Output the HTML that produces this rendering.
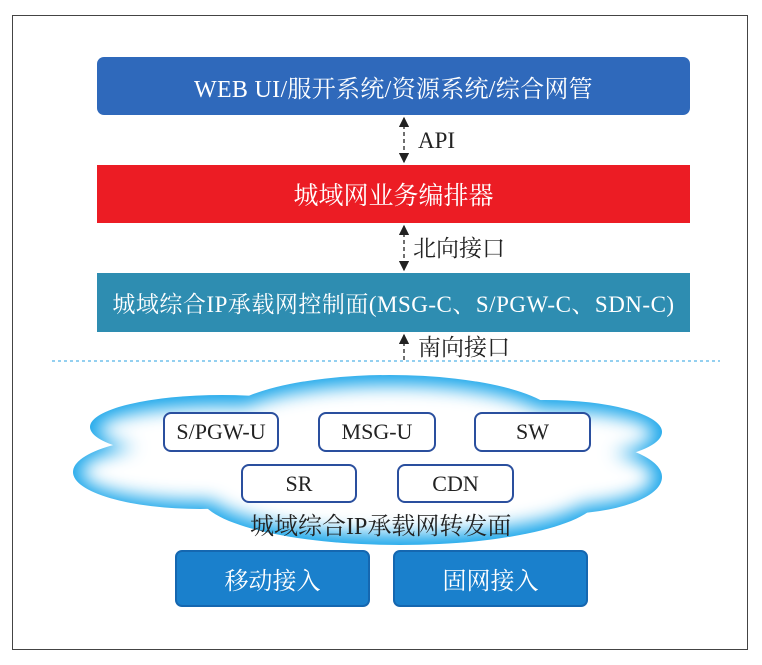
<!DOCTYPE html>
<html><head><meta charset="utf-8"><style>
body{margin:0;background:#fff;width:762px;height:665px;position:relative;overflow:hidden;font-family:"Liberation Serif","Noto Serif CJK SC",serif}
.a{position:absolute;box-sizing:border-box;display:flex;align-items:center;justify-content:center;white-space:nowrap}
.lbl{position:absolute;font-size:23px;color:#222;white-space:nowrap;line-height:1}
.n{background:#fff;border:2px solid #2a4f9e;border-radius:8px;font-size:22px;color:#222}
</style></head><body>
<div class="a" style="left:12px;top:15px;width:736px;height:635px;border:1px solid #444"></div>
<div class="a" style="left:97px;top:57px;width:593px;height:58px;background:#2f69bb;border-radius:7px;color:#fff;font-size:24px;letter-spacing:0.3px">WEB UI/服开系统/资源系统/综合网管</div>
<div class="a" style="left:97px;top:165px;width:593px;height:58px;background:#ec1c24;color:#fff;font-size:25px">城域网业务编排器</div>
<div class="a" style="left:97px;top:273px;width:593px;height:59px;background:#2e8db1;color:#fff;font-size:23px;letter-spacing:0.5px">城域综合IP承载网控制面(MSG-C、S/PGW-C、SDN-C)</div>
<svg style="position:absolute;left:0;top:0" width="762" height="665">
<defs><marker id="m" markerWidth="8" markerHeight="8" refX="7" refY="4" orient="auto-start-reverse"><path d="M0,0L8,4L0,8z" fill="#222"/></marker>
<filter id="b" x="-20%" y="-40%" width="140%" height="180%"><feGaussianBlur stdDeviation="9"/></filter></defs>
<g stroke="#222" stroke-width="1.3" stroke-dasharray="4,3" fill="none">
<line x1="404" y1="118" x2="404" y2="162" marker-start="url(#m)" marker-end="url(#m)"/>
<line x1="404" y1="226" x2="404" y2="270" marker-start="url(#m)" marker-end="url(#m)"/>
<line x1="404" y1="335" x2="404" y2="362" marker-start="url(#m)"/>
</g>
<line x1="52" y1="361" x2="720" y2="361" stroke="#2aa0e0" stroke-width="1" stroke-dasharray="3,3"/>
<g fill="#1aa6ea">
<ellipse cx="390" cy="422" rx="170" ry="47"/><ellipse cx="222" cy="427" rx="132" ry="32"/>
<ellipse cx="200" cy="472" rx="127" ry="37"/><ellipse cx="545" cy="432" rx="117" ry="32"/>
<ellipse cx="560" cy="477" rx="102" ry="37"/><ellipse cx="400" cy="495" rx="200" ry="50"/>
</g>
<g fill="#fff" filter="url(#b)">
<ellipse cx="390" cy="425" rx="162" ry="40"/><ellipse cx="222" cy="430" rx="124" ry="24"/>
<ellipse cx="200" cy="472" rx="119" ry="29"/><ellipse cx="545" cy="434" rx="109" ry="24"/>
<ellipse cx="560" cy="477" rx="94" ry="29"/><ellipse cx="400" cy="492" rx="192" ry="42"/>
</g>
</svg>
<div class="lbl" style="left:418px;top:129px">API</div>
<div class="lbl" style="left:413px;top:237px">北向接口</div>
<div class="lbl" style="left:418px;top:336px">南向接口</div>
<div class="a n" style="left:163px;top:412px;width:116px;height:40px">S/PGW-U</div>
<div class="a n" style="left:318px;top:412px;width:118px;height:40px">MSG-U</div>
<div class="a n" style="left:474px;top:412px;width:117px;height:40px">SW</div>
<div class="a n" style="left:241px;top:464px;width:116px;height:39px">SR</div>
<div class="a n" style="left:397px;top:464px;width:117px;height:39px">CDN</div>
<div class="lbl" style="left:250px;top:515px;font-size:24px">城域综合IP承载网转发面</div>
<div class="a" style="left:175px;top:550px;width:195px;height:57px;background:#1a80cc;border:2px solid #1567b0;border-radius:7px;color:#fff;font-size:24px">移动接入</div>
<div class="a" style="left:393px;top:550px;width:195px;height:57px;background:#1a80cc;border:2px solid #1567b0;border-radius:7px;color:#fff;font-size:24px">固网接入</div>
</body></html>
